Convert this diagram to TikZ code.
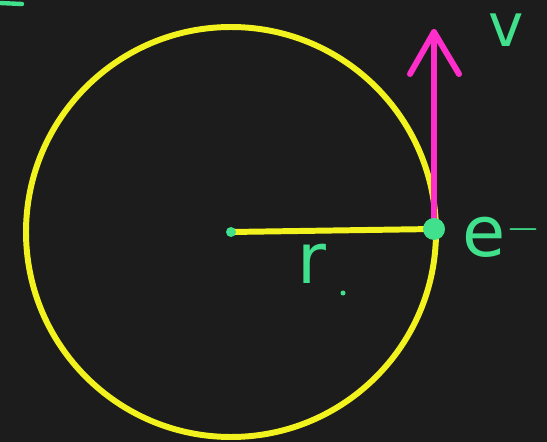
\documentclass[tikz,border=0pt]{standalone}
\usepackage{fontspec}
\setmainfont{DejaVu Sans}
\usetikzlibrary{arrows.meta,positioning}
\definecolor{bg}{HTML}{1C1C1C}
\definecolor{ylw}{HTML}{F2F21E}
\definecolor{mint}{HTML}{40E08C}
\definecolor{mag}{HTML}{FF2ECB}

\begin{document}
\begin{tikzpicture}[x=0.02cm,y=-0.02cm,
    lbl/.style={text=mint,font=\fontsize{40}{40}\selectfont,inner sep=0pt}]
  \fill[bg] (0,0) rectangle (547,442);
  \useasboundingbox (0,0) rectangle (547,442);
  % orbit
  \coordinate (o) at (231,232);
  \draw[ylw,line width=3.4pt] (o) circle (205);
  \coordinate (el) at (434,229);
  \draw[ylw,line width=3.4pt] (o) -- (el);
  \fill[mint] (o) circle (5);
  % velocity
  \coordinate (vtip) at (434,32);
  \draw[mag,line width=3.4pt,line cap=round] (el) -- (vtip);
  \draw[mag,line width=3.4pt,line cap=round,line join=round]
     (410,74) -- (vtip) -- (459,74);
  \fill[mint] (el) circle (11);
  % labels
  \node[lbl,font=\fontsize{34}{34}\selectfont] (v) at (506,30) {v};
  \node[lbl] (e) at (502,236) {e$^{-}$};
  \node[lbl] (r) at (312,264) {r};
  \fill[mint] (343,293) circle (2.5);
  % stroke cut at the top left
  \draw[mint,line width=2.5pt,line cap=round] (0,3) -- (22,4);
\end{tikzpicture}
\end{document}
